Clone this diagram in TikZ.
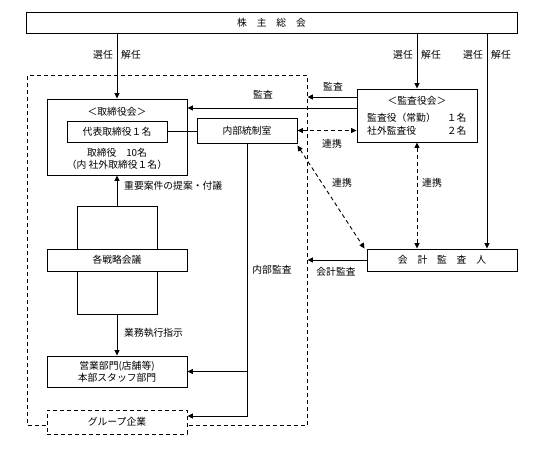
\documentclass[tikz,border=0pt]{standalone}
\usepackage{fontspec}
\setmainfont{Noto Sans CJK JP}
\usetikzlibrary{arrows.meta}

\begin{document}
\begin{tikzpicture}[x=1pt, y=-1pt,
    every node/.style={font=\fontsize{9.8}{12}\selectfont, inner sep=1pt},
    box/.style={draw, line width=0.9pt, fill=white, inner sep=0pt},
    dashbox/.style={draw, line width=0.9pt, dash pattern=on 4pt off 3pt, inner sep=0pt},
    arr/.style={line width=0.9pt, -{Triangle[length=5.5pt,width=5pt]}},
    darr/.style={line width=0.9pt, dash pattern=on 4pt off 3pt, {Triangle[length=5.5pt,width=5pt]}-{Triangle[length=5.5pt,width=5pt]}}]
    \useasboundingbox (0,0) rectangle (536,451);

    % Shareholders meeting
    \node[box, minimum width=491pt, minimum height=21pt] (gm) at (271.5,22.5) {株　主　総　会};

    % Company (dashed frame)
    \node[dashbox, minimum width=279.5pt, minimum height=350pt] (corp) at (167.25,250) {};

    % Board of directors
    \node[box, minimum width=140pt, minimum height=76pt] (board) at (117,137) {};
    \node (boardtitle) at (117,112) {＜取締役会＞};
    \node[box, minimum width=100pt, minimum height=21pt] (rep) at (117,131.5) {代表取締役１名};
    \node[align=center] (members) at (117,159) {取締役　10名\\（内 社外取締役１名）};

    % Internal control office
    \node[box, minimum width=100pt, minimum height=25pt] (naibu) at (247,130.5) {内部統制室};

    % Audit board
    \node[box, minimum width=120pt, minimum height=53pt] (kansa) at (417,115.5) {};
    \node (kansatitle) at (417,101) {＜監査役会＞};
    \node[anchor=west, inner sep=0pt] (kansamem) at (367,125.5) {\begin{tabular}{@{}l@{\hspace{11pt}}l@{}}監査役（常勤） & １名\\[1pt] 社外監査役 & ２名\end{tabular}};

    % Accounting auditor
    \node[box, minimum width=150pt, minimum height=22pt] (kaikei) at (442,260) {会　計　監　査　人};

    % Strategy meetings
    \node[box, minimum width=80pt, minimum height=108pt] (stall) at (117,260) {};
    \node[box, minimum width=140pt, minimum height=22pt] (swide) at (117,260) {各戦略会議};

    % Operating divisions
    \node[box, minimum width=140pt, minimum height=31pt, align=center] (eigyo) at (117,371.5) {営業部門(店舗等)\\本部スタッフ部門};

    % Group companies
    \node[dashbox, fill=white, minimum width=140pt, minimum height=24pt] (group) at (117,422) {グループ企業};

    % appointment / dismissal
    \draw[arr] (board.north |- gm.south) -- (board.north);
    \draw[arr] (kansa.north |- gm.south) -- (kansa.north);
    \draw[arr] ([xshift=45pt]kaikei.north |- gm.south) -- ([xshift=45pt]kaikei.north);
    \node[anchor=east] at (114,55) {選任};
    \node[anchor=west] at (120,55) {解任};
    \node[anchor=east] at (414,55) {選任};
    \node[anchor=west] at (420,55) {解任};
    \node[anchor=east] at (484,55) {選任};
    \node[anchor=west] at (490,55) {解任};

    % audits
    \draw[arr] ([yshift=18.5pt]kansa.west) coordinate (k1) -- (k1 -| corp.east);
    \draw[arr] ([yshift=7.5pt]kansa.west) coordinate (k2) -- (k2 -| board.east);
    \node at (333,87) {監査};
    \node at (263,95) {監査};
    \draw[arr] (kaikei.west) -- (kaikei.west -| corp.east);
    \node at (336,272) {会計監査};

    % cooperation
    \draw (rep.east) -- (rep.east -| naibu.west);
    \draw[darr] (naibu.east) -- (naibu.east -| kansa.west);
    \draw[darr] ([yshift=-2pt]naibu.south east) -- ([xshift=-2pt]kaikei.north west);
    \draw[darr] (kansa.south) -- (kansa.south |- kaikei.north);
    \node at (332,144) {連携};
    \node at (342,183) {連携};
    \node at (432,183) {連携};

    % internal lines
    \draw[arr] (stall.north) -- (board.south);
    \node[anchor=west] at (123,186) {重要案件の提案・付議};
    \draw[arr] (stall.south) -- (eigyo.north);
    \node[anchor=west] at (123,333) {業務執行指示};

    % internal audit
    \draw[arr] (naibu.south) |- ([yshift=6pt]group.east);
    \draw[arr] (naibu.south |- eigyo.east) -- (eigyo.east);
    \node at (272,270) {内部監査};
\end{tikzpicture}
\end{document}
